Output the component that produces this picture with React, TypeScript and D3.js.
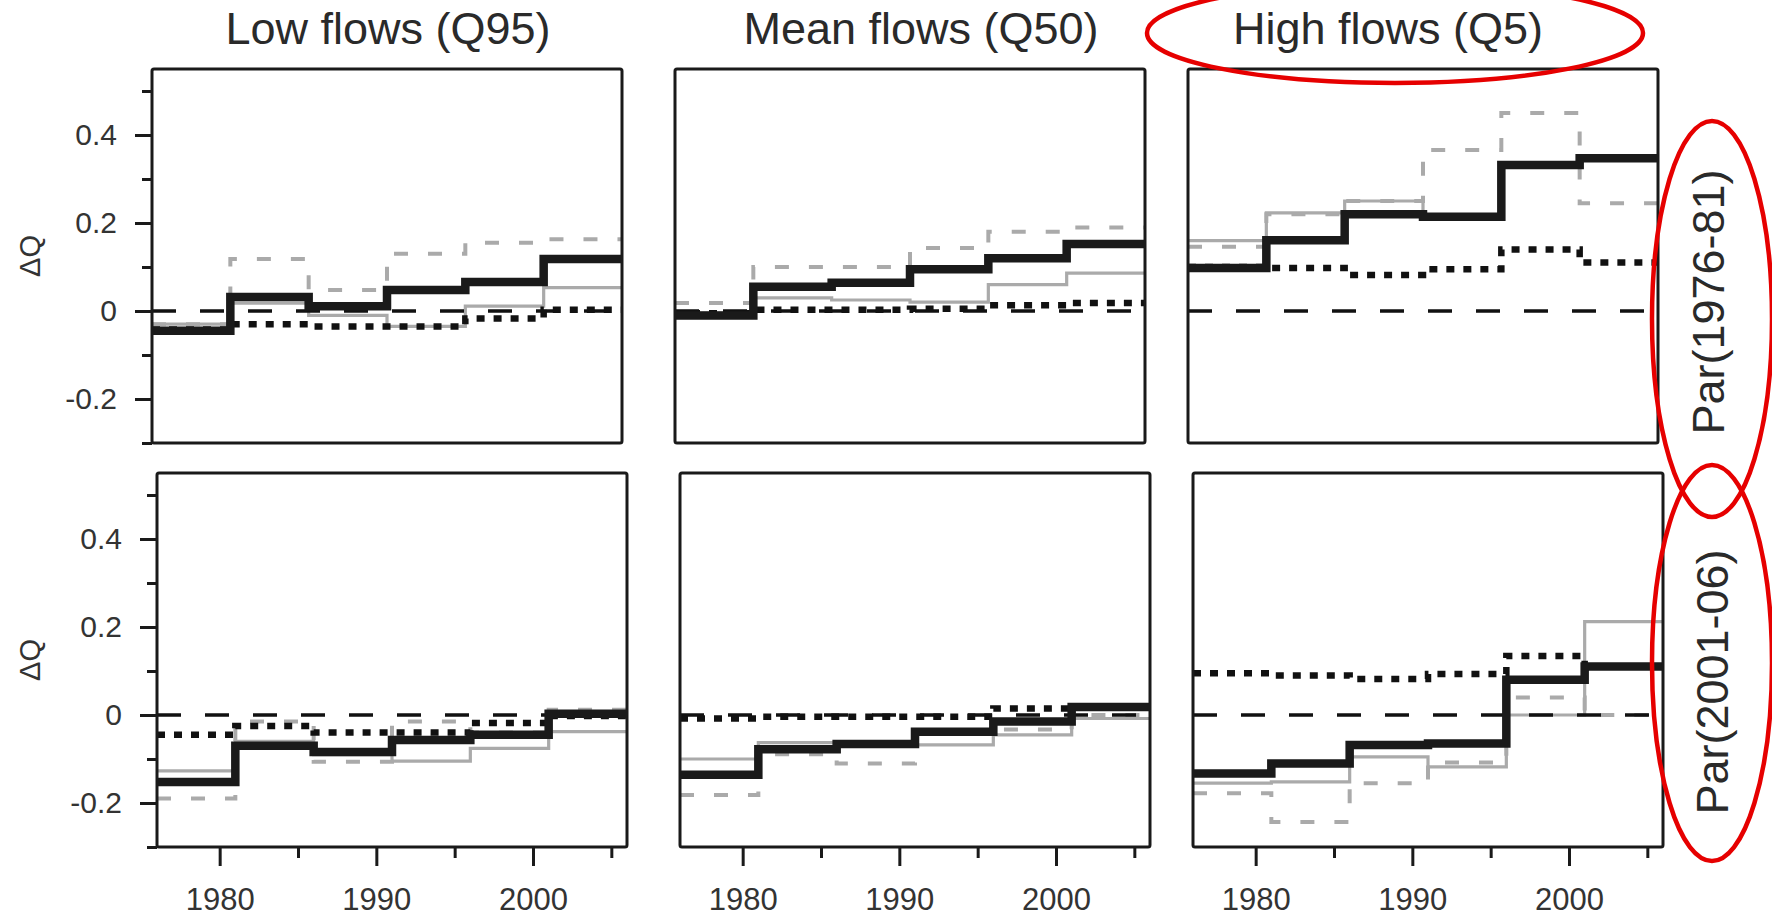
import React, { useEffect, useRef } from 'react';
import * as d3 from 'd3';

// step starts (5-year periods) and the end year
const stepYears = [1976, 1981, 1986, 1991, 1996, 2001];
const endYear = 2006;

const flowTitles = ['Low flows (Q95)', 'Mean flows (Q50)', 'High flows (Q5)'];
const parLabels = ['Par(1976-81)', 'Par(2001-06)'];

const yMajor = [-0.2, 0, 0.2, 0.4];
const yMinor = [-0.3, -0.1, 0.1, 0.3, 0.5];
const xMajor = [1980, 1990, 2000];
const xMinor = [1985, 1995, 2005];

// Par(1976-81)
const lowA_black = [-0.045, 0.032, 0.011, 0.048, 0.066, 0.118];
const lowA_gray = [-0.03, 0.018, -0.01, -0.035, 0.011, 0.053];
const lowA_grayDash = [-0.03, 0.118, 0.048, 0.13, 0.155, 0.163];
const lowA_dotted = [-0.042, -0.03, -0.035, -0.035, -0.017, 0.003];

const meanA_black = [-0.01, 0.055, 0.064, 0.095, 0.12, 0.152];
const meanA_gray = [-0.005, 0.03, 0.025, 0.02, 0.06, 0.086];
const meanA_grayDash = [0.018, 0.1, 0.1, 0.143, 0.18, 0.19];
const meanA_dotted = [-0.005, 0.003, 0.003, 0.005, 0.013, 0.018];

const highA_black = [0.098, 0.161, 0.22, 0.214, 0.332, 0.347];
const highA_gray = [0.16, 0.223, 0.25, 0.215, 0.33, 0.345];
const highA_grayDash = [0.146, 0.22, 0.25, 0.366, 0.45, 0.245];
const highA_dotted = [0.1, 0.098, 0.082, 0.095, 0.14, 0.11];

// Par(2001-06)
const lowB_black = [-0.152, -0.07, -0.084, -0.057, -0.045, 0.003];
const lowB_gray = [-0.127, -0.06, -0.09, -0.105, -0.076, -0.038];
const lowB_grayDash = [-0.19, -0.015, -0.106, -0.015, -0.04, 0.012];
const lowB_dotted = [-0.045, -0.025, -0.04, -0.04, -0.018, -0.002];

const meanB_black = [-0.136, -0.078, -0.066, -0.038, -0.015, 0.018];
const meanB_gray = [-0.1, -0.063, -0.07, -0.068, -0.045, -0.008];
const meanB_grayDash = [-0.182, -0.089, -0.11, -0.04, -0.033, 0.0];
const meanB_dotted = [-0.008, -0.004, -0.004, -0.004, 0.015, 0.018];

const highB_black = [-0.133, -0.11, -0.068, -0.065, 0.08, 0.11];
const highB_gray = [-0.155, -0.152, -0.095, -0.118, 0.0, 0.212];
const highB_grayDash = [-0.178, -0.243, -0.155, -0.108, 0.04, 0.0];
const highB_dotted = [0.095, 0.09, 0.082, 0.093, 0.134, 0.11];

const panels = [
  { row: 0, col: 0, black: lowA_black, gray: lowA_gray, grayDash: lowA_grayDash, dotted: lowA_dotted },
  { row: 0, col: 1, black: meanA_black, gray: meanA_gray, grayDash: meanA_grayDash, dotted: meanA_dotted },
  { row: 0, col: 2, black: highA_black, gray: highA_gray, grayDash: highA_grayDash, dotted: highA_dotted },
  { row: 1, col: 0, black: lowB_black, gray: lowB_gray, grayDash: lowB_grayDash, dotted: lowB_dotted },
  { row: 1, col: 1, black: meanB_black, gray: meanB_gray, grayDash: meanB_grayDash, dotted: meanB_dotted },
  { row: 1, col: 2, black: highB_black, gray: highB_gray, grayDash: highB_grayDash, dotted: highB_dotted },
];

const FONT = "'Liberation Sans', Arial, Helvetica, sans-serif";

export default function App() {
  const ref = useRef<SVGSVGElement>(null);

  useEffect(() => {
    const svg = d3.select(ref.current);
    svg.selectAll('*').remove();

    const panelW = 470, panelH = 374;
    const colLeft = [152, 675, 1188];
    const rowTop = [69, 473];
    const rowShift = [0, 5];

    const toPoints = (vals: number[]) => {
      const pts: [number, number][] = vals.map((v, i) => [stepYears[i], v]);
      pts.push([endYear, vals[vals.length - 1]]);
      return pts;
    };

    panels.forEach(p => {
      const x0 = colLeft[p.col] + rowShift[p.row];
      const y0 = rowTop[p.row];
      const x = d3.scaleLinear().domain([1976, endYear]).range([x0, x0 + panelW]);
      const y = d3.scaleLinear().domain([-0.3, 0.55]).range([y0 + panelH, y0]);
      const line = d3.line<[number, number]>()
        .x(d => x(d[0]))
        .y(d => y(d[1]))
        .curve(d3.curveStepAfter);

      const g = svg.append('g');

      // thin grey solid
      g.append('path').attr('d', line(toPoints(p.gray)))
        .attr('fill', 'none').attr('stroke', '#aaaaaa').attr('stroke-width', 3.2);
      // grey dashed
      g.append('path').attr('d', line(toPoints(p.grayDash)))
        .attr('fill', 'none').attr('stroke', '#aaaaaa').attr('stroke-width', 4)
        .attr('stroke-dasharray', '14 20');
      // zero reference
      g.append('line')
        .attr('x1', x(1976)).attr('x2', x(endYear))
        .attr('y1', y(0)).attr('y2', y(0))
        .attr('stroke', '#111').attr('stroke-width', 3.5)
        .attr('stroke-dasharray', '24 24');
      // black dotted
      g.append('path').attr('d', line(toPoints(p.dotted)))
        .attr('fill', 'none').attr('stroke', '#111').attr('stroke-width', 6.5)
        .attr('stroke-dasharray', '8 9');
      // thick black
      g.append('path').attr('d', line(toPoints(p.black)))
        .attr('fill', 'none').attr('stroke', '#1a1a1a').attr('stroke-width', 8.5);

      // frame
      g.append('rect')
        .attr('x', x0).attr('y', y0).attr('width', panelW).attr('height', panelH)
        .attr('rx', 2)
        .attr('fill', 'none').attr('stroke', '#1a1a1a').attr('stroke-width', 3);

      if (p.col === 0) {
        const major = g.append('g').attr('transform', `translate(${x0},0)`)
          .call(d3.axisLeft(y).tickValues(yMajor).tickSize(17).tickPadding(18)
            .tickFormat(d => String(+d)));
        major.select('.domain').remove();
        major.selectAll('line').attr('stroke', '#1a1a1a').attr('stroke-width', 3);
        major.selectAll('text').attr('font-family', FONT).attr('font-size', 30).attr('fill', '#333');
        const minor = g.append('g').attr('transform', `translate(${x0},0)`)
          .call(d3.axisLeft(y).tickValues(yMinor).tickSize(10).tickFormat(() => ''));
        minor.select('.domain').remove();
        minor.selectAll('line').attr('stroke', '#1a1a1a').attr('stroke-width', 3);

        g.append('text')
          .attr('transform', `translate(30,${y0 + panelH / 2}) rotate(-90)`)
          .attr('text-anchor', 'middle').attr('dominant-baseline', 'central')
          .attr('font-family', FONT).attr('font-size', 29).attr('fill', '#333')
          .text('ΔQ');
      }

      if (p.row === 1) {
        const major = g.append('g').attr('transform', `translate(0,${y0 + panelH})`)
          .call(d3.axisBottom(x).tickValues(xMajor).tickSize(19).tickPadding(22).tickFormat(d3.format('d')));
        major.select('.domain').remove();
        major.selectAll('line').attr('stroke', '#1a1a1a').attr('stroke-width', 3);
        major.selectAll('text').attr('font-family', FONT).attr('font-size', 31).attr('fill', '#333');
        const minor = g.append('g').attr('transform', `translate(0,${y0 + panelH})`)
          .call(d3.axisBottom(x).tickValues(xMinor).tickSize(11).tickFormat(() => ''));
        minor.select('.domain').remove();
        minor.selectAll('line').attr('stroke', '#1a1a1a').attr('stroke-width', 3);
      }
    });

    // column titles
    const titleX = [388, 921, 1388];
    flowTitles.forEach((t, i) => {
      svg.append('text')
        .attr('x', titleX[i]).attr('y', 44)
        .attr('text-anchor', 'middle')
        .attr('font-family', FONT).attr('font-size', 45).attr('fill', '#2a2a2a')
        .text(t);
    });

    // row labels on the right
    const parBase = [[1724, 302], [1728, 682]];
    parLabels.forEach((t, i) => {
      svg.append('text')
        .attr('transform', `translate(${parBase[i][0]},${parBase[i][1]}) rotate(-90)`)
        .attr('text-anchor', 'middle')
        .attr('font-family', FONT).attr('font-size', 45).attr('fill', '#2a2a2a')
        .text(t);
    });

    // red hand-drawn highlight ellipses
    const ellipses = [
      { cx: 1395, cy: 33, rx: 248, ry: 50 },
      { cx: 1712, cy: 319, rx: 60, ry: 198 },
      { cx: 1712, cy: 663, rx: 60, ry: 198 },
    ];
    svg.selectAll('ellipse.hl').data(ellipses).enter().append('ellipse')
      .attr('class', 'hl')
      .attr('cx', d => d.cx).attr('cy', d => d.cy)
      .attr('rx', d => d.rx).attr('ry', d => d.ry)
      .attr('fill', 'none').attr('stroke', '#e60000').attr('stroke-width', 4.5);
  }, []);

  return (
    <svg ref={ref} width={1772} height={917}
      style={{ position: 'absolute', left: 0, top: 0, background: '#fff' }} />
  );
}
